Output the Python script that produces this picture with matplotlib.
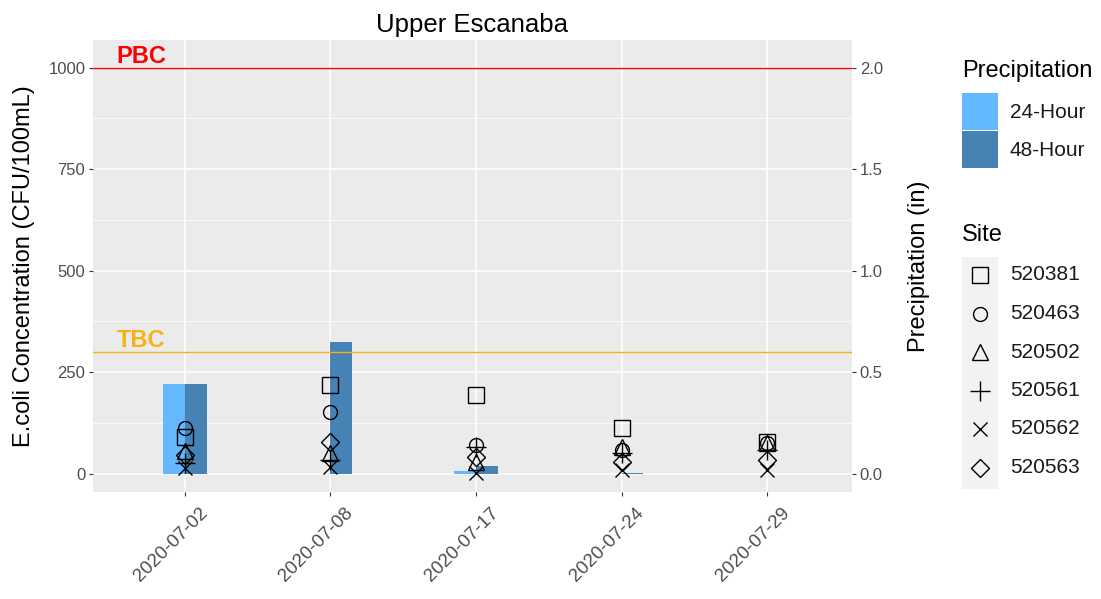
import numpy as np
import matplotlib
matplotlib.use("Agg")
import matplotlib.pyplot as plt
from matplotlib.patches import Rectangle
from matplotlib.transforms import ScaledTranslation

plt.rcParams['font.family'] = ['Liberation Sans', 'DejaVu Sans']

# Sampling dates (discrete x axis)
dates = ["2020-07-02", "2020-07-08", "2020-07-17", "2020-07-24", "2020-07-29"]

# Precipitation (in)
precip_24 = [0.44, 0.0, 0.015, 0.0, 0.0]
precip_48 = [0.44, 0.65, 0.04, 0.005, 0.0]

# E.coli by site (CFU/100mL)
sites = ["520381", "520463", "520502", "520561", "520562", "520563"]
site_520381 = [91, 219, 195, 113, 79]
site_520463 = [113, 153, 70, 59, 76]
site_520502 = [57, 52, 30, 67, 76]
site_520561 = [27, 34, 67, 52, 59]
site_520562 = [15, 17, 3, 10, 10]
site_520563 = [47, 79, 42, 30, 34]
site_values = [site_520381, site_520463, site_520502, site_520561, site_520562, site_520563]

# Thresholds
pbc = 1000
tbc = 300

PRECIP_SCALE = 500  # 1 in of rain <-> 500 CFU on the secondary axis

col_24 = "#63B8FF"
col_48 = "#4682B4"
col_pbc = "#FF0000"
col_tbc = "#F5B316"
grey_txt = "#4D4D4D"
markers = {"520381": ("s", 11.0), "520463": ("o", 10.0), "520502": ("^", 12.0),
           "520561": ("+", 14.0), "520562": ("x", 10.0), "520563": ("D", 9.5)}

W, H = 1101, 599
fig = plt.figure(figsize=(W / 100, H / 100), dpi=100)
ax = fig.add_axes([93 / W, 1 - 492 / H, (852 - 93) / W, (492 - 40) / H])
ax.set_facecolor("#EBEBEB")
for s in ax.spines.values():
    s.set_visible(False)

x = np.arange(1, len(dates) + 1)
bw = 0.15

# precipitation bars, scaled onto the concentration axis
ax.bar(x - bw / 2, np.array(precip_24) * PRECIP_SCALE, width=bw, color=col_24, zorder=2)
ax.bar(x + bw / 2, np.array(precip_48) * PRECIP_SCALE, width=bw, color=col_48, zorder=2)

# thresholds
ax.axhline(pbc, color=col_pbc, lw=1.0, zorder=3)
ax.axhline(tbc, color=col_tbc, lw=1.0, zorder=3)
ax.text(0.7, pbc + 12, "PBC", color=col_pbc, fontsize=17, fontweight="bold",
        ha="center", va="baseline", zorder=4)
ax.text(0.7, tbc + 12, "TBC", color=col_tbc, fontsize=17, fontweight="bold",
        ha="center", va="baseline", zorder=4)

# site points
for name, vals in zip(sites, site_values):
    m, ms = markers[name]
    ax.plot(x, vals, linestyle="none", marker=m, markersize=ms, markerfacecolor="none",
            markeredgecolor="black", markeredgewidth=1.0, color="black", zorder=5)

ax.set_xlim(0.368, 5.584)
ax.set_ylim(-45, 1068)
ax.set_xticks(x)
ax.set_xticklabels(dates)
ax.set_yticks([0, 250, 500, 750, 1000])
ax.set_yticks([125, 375, 625, 875], minor=True)
ax.grid(which="major", color="white", lw=1.1, zorder=0)
ax.grid(which="minor", axis="y", color="white", lw=0.55, zorder=0)
ax.set_axisbelow(True)
ax.tick_params(axis="both", which="major", length=3, width=0.8, color="#333333",
               labelcolor=grey_txt, labelsize=12, pad=2.5)
ax.tick_params(axis="both", which="minor", length=0)
ax.tick_params(axis="x", labelsize=13.5)

offset = ScaledTranslation(14 / 100, -5 / 100, fig.dpi_scale_trans)
for lab in ax.get_xticklabels():
    lab.set_rotation(45)
    lab.set_ha("right")
    lab.set_va("top")
    lab.set_rotation_mode("anchor")
    lab.set_transform(lab.get_transform() + offset)

ax.set_ylabel("E.coli Concentration (CFU/100mL)", fontsize=17)
ax.yaxis.set_label_coords(-0.077, 0.5)

sec = ax.secondary_yaxis("right", functions=(lambda v: v / PRECIP_SCALE,
                                             lambda p: p * PRECIP_SCALE))
sec.set_yticks([0.0, 0.5, 1.0, 1.5, 2.0])
sec.set_yticklabels(["0.0", "0.5", "1.0", "1.5", "2.0"])
for s in sec.spines.values():
    s.set_visible(False)
sec.tick_params(length=3, width=0.8, color="#333333", labelcolor=grey_txt,
                labelsize=12, pad=2.5)
sec.set_ylabel("Precipitation (in)", fontsize=17, labelpad=18)

ax.set_title("Upper Escanaba", fontsize=18.5, pad=6)

# legends drawn in pixel space
lax = fig.add_axes([0, 0, 1, 1], zorder=-1)
lax.set_xlim(0, W)
lax.set_ylim(H, 0)
lax.axis("off")

lax.text(962, 71, "Precipitation", fontsize=17, ha="left", va="center")
for i, (lab, c) in enumerate([("24-Hour", col_24), ("48-Hour", col_48)]):
    y0 = 93 + i * 38
    lax.add_patch(Rectangle((962, y0), 36, 37, facecolor=c, edgecolor="none"))
    lax.text(1010, y0 + 19, lab, fontsize=15, ha="left", va="center", color="#1A1A1A")

lax.text(962, 235, "Site", fontsize=17, ha="left", va="center")
lax.add_patch(Rectangle((962, 257), 36, 232, facecolor="#F2F2F2", edgecolor="none"))
for i, name in enumerate(sites):
    yc = 275 + i * 38.5
    m, ms = markers[name]
    lax.plot([980], [yc], marker=m, markersize=ms, markerfacecolor="none",
             markeredgecolor="black", markeredgewidth=1.0, linestyle="none")
    lax.text(1010, yc, name, fontsize=15, ha="left", va="center", color="#1A1A1A")

fig.savefig("out.png", dpi=100, facecolor="white")
